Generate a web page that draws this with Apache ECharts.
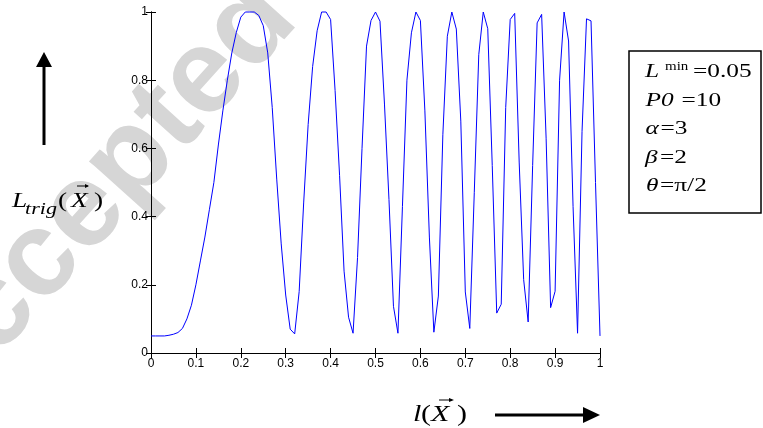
<!DOCTYPE html>
<html><head><meta charset="utf-8">
<script src="https://cdn.jsdelivr.net/npm/echarts@6/dist/echarts.min.js"></script>
<style>html,body{margin:0;padding:0;background:#fff}#c{width:763px;height:428px}</style>
</head><body><div id="c"></div>
<script>
// sample positions l(X)
const xs = [0,0.01,0.02,0.03,0.04,0.05,0.06,0.07,0.08,0.09,
  0.10,0.11,0.12,0.13,0.14,0.15,0.16,0.17,0.18,0.19,
  0.20,0.21,0.22,0.23,0.24,0.25,0.26,0.27,0.28,0.29,
  0.30,0.31,0.32,0.33,0.34,0.35,0.36,0.37,0.38,0.39,
  0.40,0.41,0.42,0.43,0.44,0.45,0.46,0.47,0.48,0.49,
  0.50,0.51,0.52,0.53,0.54,0.55,0.56,0.57,0.58,0.59,
  0.60,0.61,0.62,0.63,0.64,0.65,0.66,0.67,0.68,0.69,
  0.70,0.71,0.72,0.73,0.74,0.75,0.76,0.77,0.78,0.79,
  0.80,0.81,0.82,0.83,0.84,0.85,0.86,0.87,0.88,0.89,
  0.90,0.91,0.92,0.93,0.94,0.95,0.96,0.97,0.98,0.99,1.00];
// L_trig values
const ys = [0.050,0.050,0.050,0.050,0.052,0.055,0.060,0.072,0.100,0.140,
  0.200,0.270,0.340,0.420,0.500,0.610,0.710,0.800,0.880,0.940,
  0.985,1.000,1.000,1.000,0.990,0.960,0.880,0.720,0.510,0.320,
  0.170,0.070,0.056,0.180,0.440,0.670,0.840,0.945,1.000,1.000,
  0.978,0.770,0.520,0.240,0.105,0.058,0.280,0.600,0.900,0.975,
  1.000,0.973,0.730,0.450,0.137,0.058,0.430,0.800,0.939,1.000,
  0.975,0.710,0.340,0.061,0.167,0.640,0.929,1.000,0.950,0.680,
  0.179,0.072,0.470,0.875,1.000,0.951,0.550,0.117,0.143,0.720,
  0.978,0.996,0.560,0.215,0.091,0.550,0.968,0.993,0.630,0.133,
  0.181,0.800,1.000,0.915,0.430,0.058,0.650,0.980,0.974,0.500,0.050];
const xTicks = [0,0.1,0.2,0.3,0.4,0.5,0.6,0.7,0.8,0.9,1];
const yTicks = [0,0.2,0.4,0.6,0.8,1];
const xTickLabels = ['0','0.1','0.2','0.3','0.4','0.5','0.6','0.7','0.8','0.9','1'];
const yTickLabels = ['0','0.2','0.4','0.6','0.8','1'];

const chart = echarts.init(document.getElementById('c'), null, {renderer:'canvas'});
const tickFont = '"Liberation Sans Narrow","Arial Narrow","Liberation Sans",Arial,sans-serif';
const serif = '"Liberation Serif","Times New Roman",serif';
function fmt(list, ticks){ return v => { const k = ticks.findIndex(t => Math.abs(t - v) < 1e-9); return k >= 0 ? list[k] : ''; }; }
const xStep = xTicks[1] - xTicks[0], yStep = yTicks[1] - yTicks[0];
const commonX = {type:'value', min:xTicks[0], max:xTicks[xTicks.length-1], interval:xStep,
  splitLine:{show:false}, axisLine:{lineStyle:{color:'#000',width:1}},
  axisTick:{inside:true,length:5,lineStyle:{color:'#000'}}};
const commonY = {type:'value', min:yTicks[0], max:yTicks[yTicks.length-1], interval:yStep,
  splitLine:{show:false}, axisLine:{lineStyle:{color:'#000',width:1}},
  axisTick:{inside:true,length:5,lineStyle:{color:'#000'}}};

const g = [];
// watermark
g.push({type:'text', x:95, y:200, rotation:48*Math.PI/180, z:-10, silent:true,
  style:{text:'Accepted', font:'bold 120px "Liberation Sans",Arial,sans-serif', fill:'#d6d6d6', align:'center', verticalAlign:'middle'}});
// parameter box
g.push({type:'rect', shape:{x:629, y:51, width:132, height:162}, style:{fill:'#fff', stroke:'#000', lineWidth:1.5}, z:50});
// text placed by baseline; horizontally stretched serif like the source figure
function T(x, base, text, size, italic, sx){ g.push({type:'text', x:x, y:base - 0.3*size, z:60, scaleX:(sx||1.3), silent:true,
  style:{text:text, font:(italic?'italic ':'')+size+'px '+serif, fill:'#000', verticalAlign:'middle', align:'left'}}); }
T(645, 77.5, 'L', 19.5, true);
T(665, 70, 'min', 11.5, false);
T(693, 77.5, '=0.05', 19.5, false);
T(645.5, 106.5, 'P0', 19.5, true);
T(681.5, 106.5, '=10', 19.5, false);
T(645.5, 135, 'α', 19.5, true);
T(660.5, 135, '=3', 19.5, false);
T(645, 163.5, 'β', 19.5, true);
T(660, 163.5, '=2', 19.5, false);
T(646, 191.5, 'θ', 19.5, true);
T(660, 191.5, '=π/2', 19.5, false);
// y-axis label
T(12, 208, 'L', 21, true);
T(25, 215, 'trig', 17, true);
T(58, 208, '(', 21, false);
T(71, 208, 'X', 21, true);
T(94, 208, ')', 21, false);
g.push({type:'line', shape:{x1:77, y1:186, x2:88, y2:186}, style:{stroke:'#000', lineWidth:1}, z:60});
g.push({type:'polygon', shape:{points:[[89,186],[85,184],[85,188]]}, style:{fill:'#000'}, z:60});
// up arrow
g.push({type:'line', shape:{x1:44, y1:145, x2:44, y2:64}, style:{stroke:'#000', lineWidth:3}, z:60});
g.push({type:'polygon', shape:{points:[[36,67],[52,67],[44,52]]}, style:{fill:'#000'}, z:60});
// x-axis label
T(413, 421.5, 'l', 24, true, 1.25);
T(421, 421.5, '(', 24, false, 1.25);
T(431, 421.5, 'X', 24, true, 1.25);
T(457, 421.5, ')', 24, false, 1.25);
g.push({type:'line', shape:{x1:439, y1:400, x2:452, y2:400}, style:{stroke:'#000', lineWidth:1}, z:60});
g.push({type:'polygon', shape:{points:[[454,400],[449,398],[449,402]]}, style:{fill:'#000'}, z:60});
// right arrow
g.push({type:'line', shape:{x1:495, y1:415, x2:586, y2:415}, style:{stroke:'#000', lineWidth:3}, z:60});
g.push({type:'polygon', shape:{points:[[583,407],[583,423],[600,415]]}, style:{fill:'#000'}, z:60});

chart.setOption({
  animation:false,
  backgroundColor:'#fff',
  grid:{left:151, right:163, top:12, bottom:75, containLabel:false},
  xAxis:[
    Object.assign({}, commonX, {position:'bottom', axisLabel:{show:true, color:'#000', fontFamily:tickFont, fontSize:12, margin:5, showMinLabel:true, showMaxLabel:true, formatter:fmt(xTickLabels, xTicks)}}),
    Object.assign({}, commonX, {position:'top', axisLabel:{show:false}})
  ],
  yAxis:[
    Object.assign({}, commonY, {position:'left', axisLabel:{show:true, color:'#000', fontFamily:tickFont, fontSize:12, margin:3, showMinLabel:true, showMaxLabel:true, formatter:fmt(yTickLabels, yTicks)}}),
    Object.assign({}, commonY, {position:'right', axisLabel:{show:false}})
  ],
  series:[{type:'line', data:xs.map((x,i)=>[x, ys[i]]), showSymbol:false, symbol:'none', smooth:false,
    lineStyle:{color:'#0000ff', width:1}, z:5, clip:false}],
  graphic:g
});
</script></body></html>
